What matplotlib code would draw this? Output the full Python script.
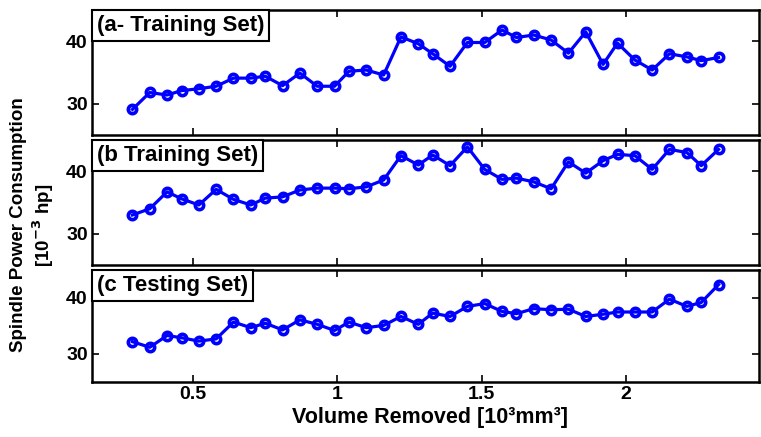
import matplotlib.pyplot as plt

plt.rcParams['font.family'] = ['Liberation Sans', 'DejaVu Sans']
plt.rcParams['font.weight'] = 'bold'
plt.rcParams['mathtext.default'] = 'bf'

# Volume removed at each pass [10^3 mm^3]
volume = [0.29, 0.35, 0.41, 0.46, 0.52, 0.58, 0.64, 0.70, 0.75, 0.81,
          0.87, 0.93, 0.99, 1.04, 1.10, 1.16, 1.22, 1.28, 1.33, 1.39,
          1.45, 1.51, 1.57, 1.62, 1.68, 1.74, 1.80, 1.86, 1.92, 1.97,
          2.03, 2.09, 2.15, 2.21, 2.26, 2.32]

# Spindle power [10^-3 hp]
power_a = [29.1, 31.8, 31.4, 32.1, 32.4, 32.8, 34.1, 34.1, 34.4, 32.9,
           34.9, 32.8, 32.8, 35.2, 35.4, 34.6, 40.7, 39.6, 38.0, 36.0,
           39.8, 39.8, 41.8, 40.6, 41.0, 40.2, 38.1, 41.5, 36.3, 39.7,
           37.0, 35.4, 38.0, 37.5, 36.9, 37.4]
power_b = [33.0, 34.0, 36.7, 35.6, 34.6, 37.1, 35.5, 34.6, 35.7, 35.9,
           37.0, 37.3, 37.3, 37.2, 37.5, 38.6, 42.5, 41.0, 42.6, 40.9,
           43.9, 40.3, 38.7, 38.9, 38.3, 37.2, 41.5, 39.7, 41.7, 42.7,
           42.5, 40.3, 43.5, 43.0, 40.9, 43.5]
power_c = [32.2, 31.2, 33.3, 32.9, 32.3, 32.7, 35.7, 34.7, 35.5, 34.3,
           36.1, 35.3, 34.2, 35.7, 34.7, 35.1, 36.7, 35.3, 37.3, 36.7,
           38.5, 39.0, 37.6, 37.2, 38.1, 37.9, 38.0, 36.7, 37.1, 37.5,
           37.5, 37.5, 39.8, 38.5, 39.2, 42.4]

titles = ['(a- Training Set)', '(b Training Set)', '(c Testing Set)']
series = [power_a, power_b, power_c]

fig = plt.figure(figsize=(7.61, 4.37), dpi=100)
W, H = 761, 437
# panel extents in pixels: (top, bottom)
rows = [(10, 135), (140, 265), (270, 382)]
left, right = 92, 759

axes = []
for (top, bot), vals, title in zip(rows, series, titles):
    ax = fig.add_axes([left / W, 1 - bot / H, (right - left) / W, (bot - top) / H])
    ax.plot(volume, vals, '-o', color='#0000ff', lw=2.3, ms=6,
            mfc='none', mec='#0000ff', mew=2.6)
    ax.set_xlim(0.15, 2.46)
    ax.set_ylim(25, 45)
    ax.set_yticks([30, 40])
    ax.set_xticks([0.5, 1, 1.5, 2])
    ax.tick_params(direction='in', top=True, right=True, labelsize=14,
                   length=5, width=1.2, pad=3)
    for s in ax.spines.values():
        s.set_linewidth(1.8)
    # boxed panel tag tucked into the top-left corner
    ax.annotate(title, xy=(0, 1), xycoords='axes fraction',
                xytext=(3.5, -3.5), textcoords='offset points',
                ha='left', va='top', fontsize=16, fontweight='bold',
                bbox=dict(boxstyle='square,pad=0.22', fc='white', ec='black', lw=1.5))
    axes.append(ax)

for ax in axes[:-1]:
    ax.tick_params(labelbottom=False)

axes[-1].set_xticklabels(['0.5', '1', '1.5', '2'])

fig.text(430 / W, 1 - 417 / H, 'Volume Removed [10³mm³]',
         ha='center', va='center', fontsize=15.5, fontweight='bold')

fig.text(33 / W, 1 - 225 / H, 'Spindle Power Consumption\n[10$^{-3}$ hp]',
         rotation=90, ha='center', va='center', fontsize=13.5,
         fontweight='bold', multialignment='center', linespacing=1.15)

fig.savefig('out.png', dpi=100)
